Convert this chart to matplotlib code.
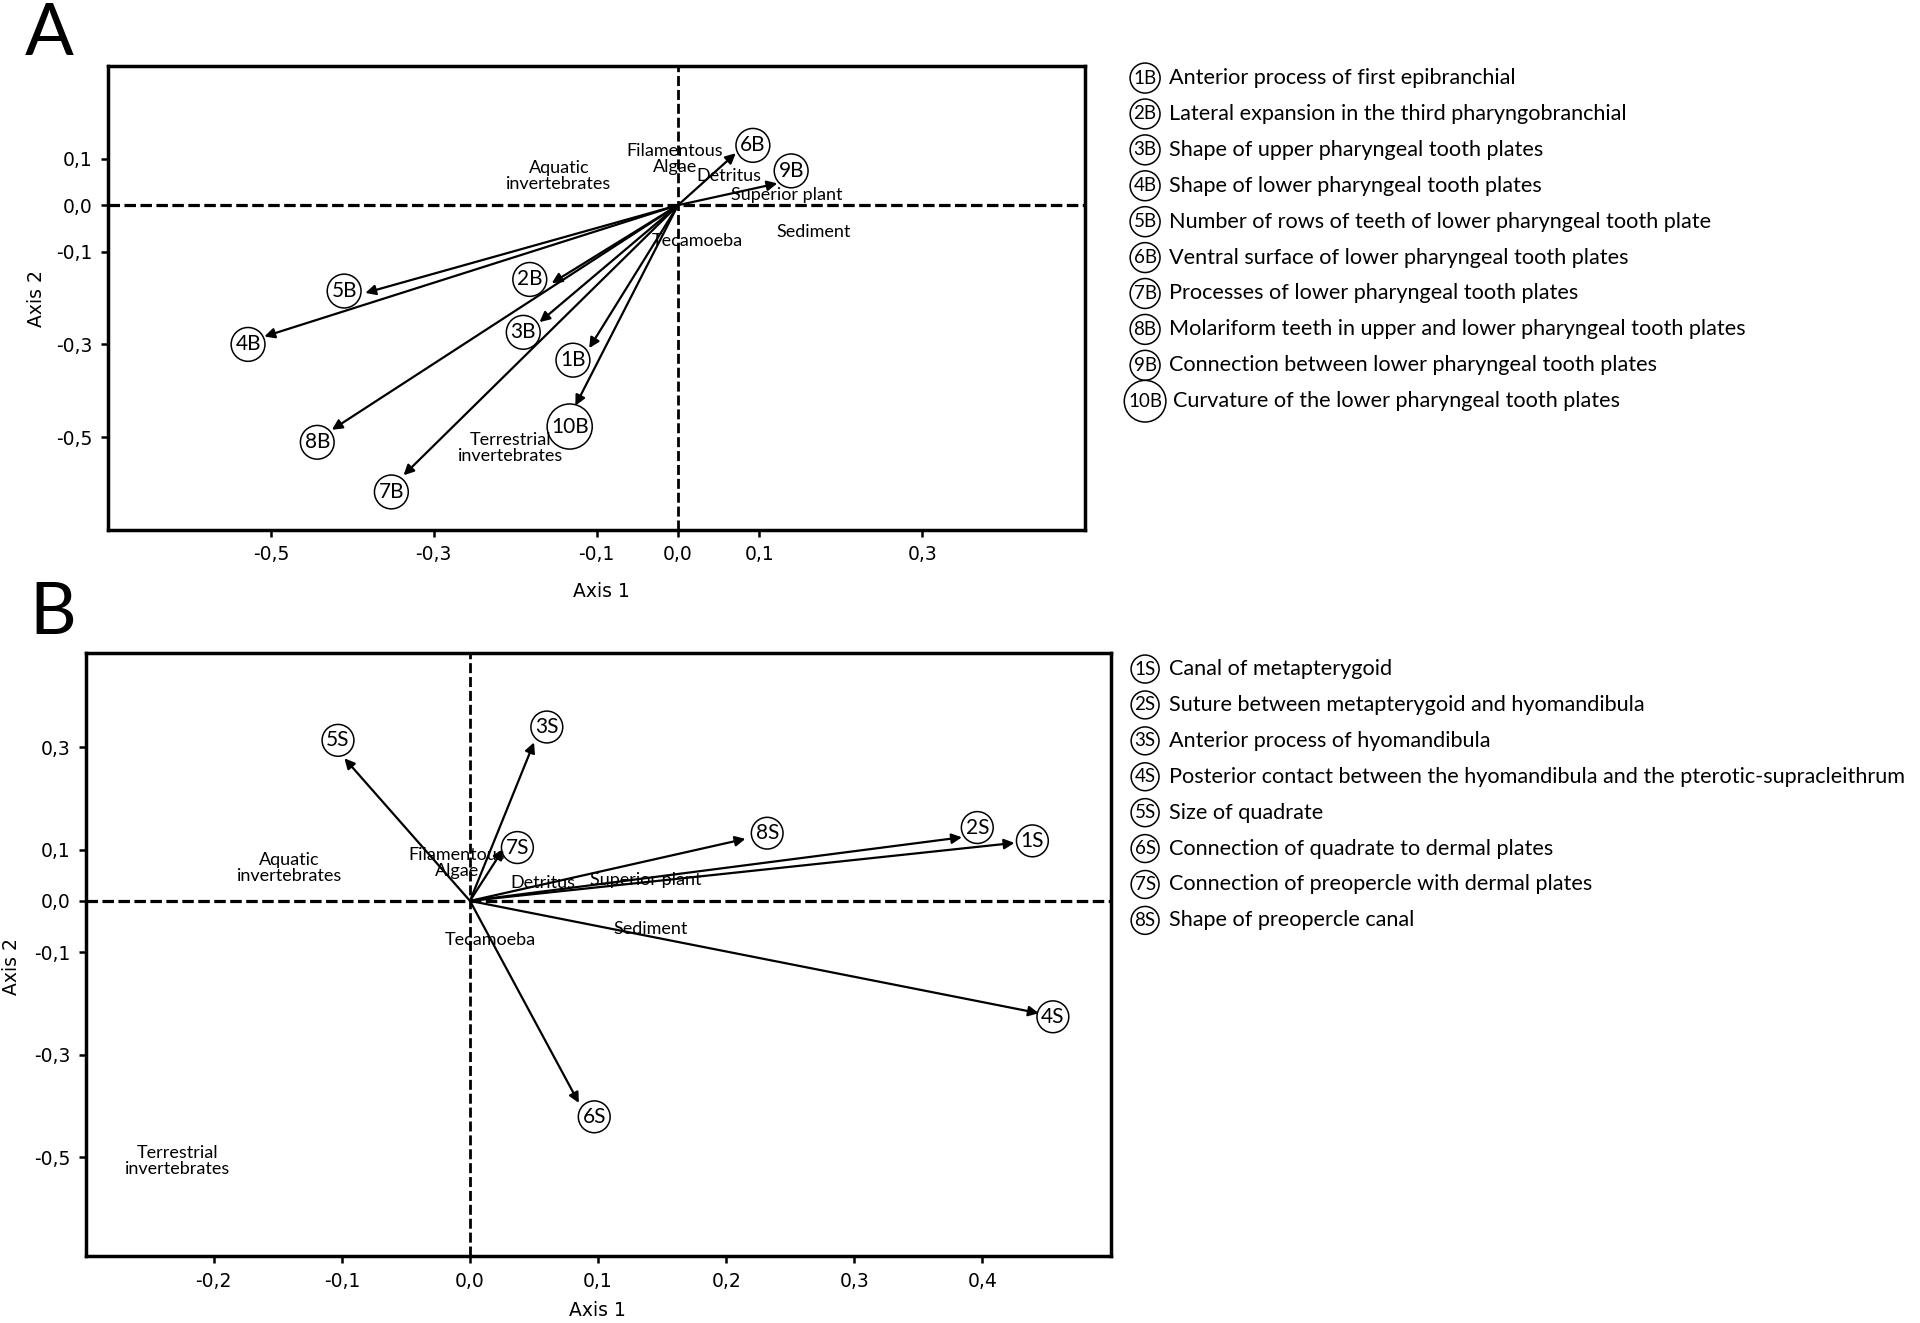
import numpy as np
import matplotlib.pyplot as plt

# ---- panel A (branchial characters) ----
a_names = ["1B", "2B", "3B", "4B", "5B", "6B", "7B", "8B", "9B", "10B"]
a_x = [-0.109, -0.155, -0.170, -0.508, -0.384, 0.071, -0.337, -0.425, 0.122, -0.126]
a_y = [-0.308, -0.168, -0.252, -0.283, -0.189, 0.112, -0.582, -0.484, 0.047, -0.432]
a_lab_x = [-0.129, -0.182, -0.190, -0.528, -0.410, 0.092, -0.352, -0.443, 0.139, -0.133]
a_lab_y = [-0.334, -0.160, -0.274, -0.300, -0.185, 0.129, -0.618, -0.511, 0.074, -0.477]
a_desc = ["Anterior process of first epibranchial",
          "Lateral expansion in the third pharyngobranchial",
          "Shape of upper pharyngeal tooth plates",
          "Shape of lower pharyngeal tooth plates",
          "Number of rows of teeth of lower pharyngeal tooth plate",
          "Ventral surface of lower pharyngeal tooth plates",
          "Processes of lower pharyngeal tooth plates",
          "Molariform teeth in upper and lower pharyngeal tooth plates",
          "Connection between lower pharyngeal tooth plates",
          "Curvature of the lower pharyngeal tooth plates"]
a_food = ["Aquatic\ninvertebrates", "Filamentous\nAlgae", "Detritus", "Superior plant",
          "Sediment", "Tecamoeba", "Terrestrial\ninvertebrates"]
a_food_x = [-0.146, -0.004, 0.062, 0.133, 0.167, 0.024, -0.206]
a_food_y = [0.062, 0.100, 0.062, 0.023, -0.058, -0.077, -0.523]
a_xticks = [-0.5, -0.3, -0.1, 0.0, 0.1, 0.3]
a_yticks = [0.1, 0.0, -0.1, -0.3, -0.5]

# ---- panel B (suspensorium characters) ----
b_names = ["1S", "2S", "3S", "4S", "5S", "6S", "7S", "8S"]
b_x = [0.425, 0.384, 0.050, 0.444, -0.098, 0.085, 0.026, 0.215]
b_y = [0.113, 0.124, 0.309, -0.219, 0.278, -0.394, 0.101, 0.121]
b_lab_x = [0.439, 0.396, 0.060, 0.455, -0.103, 0.097, 0.037, 0.232]
b_lab_y = [0.117, 0.143, 0.339, -0.226, 0.313, -0.421, 0.104, 0.132]
b_desc = ["Canal of metapterygoid",
          "Suture between metapterygoid and hyomandibula",
          "Anterior process of hyomandibula",
          "Posterior contact between the hyomandibula and the pterotic-supracleithrum",
          "Size of quadrate",
          "Connection of quadrate to dermal plates",
          "Connection of preopercle with dermal plates",
          "Shape of preopercle canal"]
b_food = ["Aquatic\ninvertebrates", "Filamentous\nAlgae", "Detritus", "Superior plant",
          "Sediment", "Tecamoeba", "Terrestrial\ninvertebrates"]
b_food_x = [-0.141, -0.010, 0.057, 0.137, 0.141, 0.016, -0.228]
b_food_y = [0.065, 0.074, 0.035, 0.041, -0.055, -0.076, -0.507]
b_xticks = [-0.2, -0.1, 0.0, 0.1, 0.2, 0.3, 0.4]
b_yticks = [0.3, 0.1, 0.0, -0.1, -0.3, -0.5]

lato = ["Lato", "DejaVu Sans"]
dv = ["DejaVu Sans"]

fig = plt.figure(figsize=(19.2, 13.23), dpi=100)


def fmt(v):
    return ("%.1f" % v).replace(".", ",")


def circ(big):
    return dict(boxstyle="circle,pad=%.2f" % (0.18 if big else 0.2),
                fc="white", ec="black", lw=1.1)


def panel(ax, names, xs, ys, lx, ly, food, fx, fy, xticks, yticks, xlim, ylim):
    ax.set_xlim(xlim)
    ax.set_ylim(ylim)
    ax.axhline(0, color="black", lw=2.3, ls=(0, (3.6, 1.4)), zorder=1)
    ax.axvline(0, color="black", lw=2.0, ls=(0, (3.6, 1.4)), zorder=1)
    for i in range(len(names)):
        ax.annotate("", xy=(xs[i], ys[i]), xytext=(0, 0),
                    arrowprops=dict(arrowstyle="-|>", color="black", lw=1.6,
                                    mutation_scale=15, shrinkA=0, shrinkB=0))
        big = len(names[i]) > 2
        ax.text(lx[i], ly[i], names[i], ha="center", va="center",
                fontsize=15, family=lato, bbox=circ(big))
    for i in range(len(food)):
        ax.text(fx[i], fy[i], food[i], ha="center", va="center", fontsize=13,
                family=lato, linespacing=1.0)
    ax.set_xticks(xticks)
    ax.set_xticklabels([fmt(v) for v in xticks], family=dv, fontsize=13.5)
    ax.set_yticks(yticks)
    ax.set_yticklabels([fmt(v) for v in yticks], family=dv, fontsize=13.5)
    ax.tick_params(length=5, width=1.8, pad=6)
    for s in ax.spines.values():
        s.set_linewidth(2.5)


axA = fig.add_axes([0.05625, 0.5994, 0.5089, 0.3507])
panel(axA, a_names, a_x, a_y, a_lab_x, a_lab_y, a_food, a_food_x, a_food_y,
      a_xticks, a_yticks, (-0.70, 0.50), (-0.70, 0.30))
axA.set_xlabel("Axis 1", fontsize=13.5, family=dv)
axA.set_ylabel("Axis 2", fontsize=13.5, family=dv)
axA.xaxis.set_label_coords(0.505, -0.132)
axA.yaxis.set_label_coords(-0.073, 0.498)

axB = fig.add_axes([0.0446, 0.0504, 0.5338, 0.4563])
panel(axB, b_names, b_x, b_y, b_lab_x, b_lab_y, b_food, b_food_x, b_food_y,
      b_xticks, b_yticks, (-0.30, 0.50), (-0.693, 0.484))
axB.set_xlabel("Axis 1", fontsize=13.5, family=dv)
axB.set_ylabel("Axis 2", fontsize=13.5, family=dv)
axB.xaxis.set_label_coords(0.499, -0.0894)
axB.yaxis.set_label_coords(-0.072, 0.48)
for ax in (axA, axB):
    ax.xaxis.label.set_va("center")
    ax.yaxis.label.set_va("center")

fig.text(0.0255, 0.9584, "A", fontsize=52, family=lato, ha="center", va="baseline")
fig.text(0.0274, 0.5207, "B", fontsize=52, family=lato, ha="center", va="baseline")

# legends
step = 0.02714
for names, desc, y0 in [(a_names, a_desc, 0.941), (b_names, b_desc, 0.4943)]:
    for i in range(len(names)):
        y = y0 - i * step
        big = len(names[i]) > 2
        fig.text(0.5964, y, names[i], ha="center", va="center",
                 fontsize=13.5, family=lato,
                 bbox=dict(boxstyle="circle,pad=%.2f" % (0.2 if big else 0.18),
                           fc="white", ec="black", lw=1.1))
        fig.text(0.6089 + (0.002 if big else 0), y, desc[i], ha="left", va="center",
                 fontsize=15.6, family=lato)

fig.savefig("out.png", dpi=100)
